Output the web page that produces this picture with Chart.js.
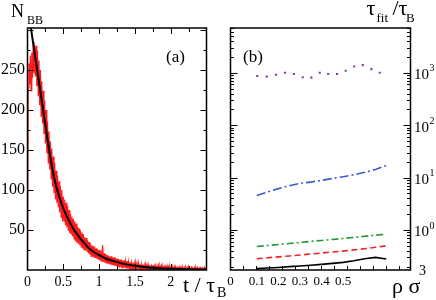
<!DOCTYPE html>
<html><head><meta charset="utf-8">
<script src="https://cdn.jsdelivr.net/npm/chart.js@4/dist/chart.umd.min.js"></script>
<style>
html,body{margin:0;padding:0;background:#fff;width:436px;height:300px;overflow:hidden;}
canvas{position:absolute;top:0;}
</style></head><body>
<canvas id="ca" width="232" height="300" style="left:0"></canvas>
<canvas id="cb" width="218" height="300" style="left:218px"></canvas>
<script>
// ---------- Panel (a): N_BB vs t / tau_B ----------
const nbbT0 = 0, nbbDt = 0.01;           // sampling grid of the simulated trace
const nbbValues = [
  0, 228, 258, 232, 268, 224, 272, 240, 285, 246,
  282, 242, 280, 230, 274, 218, 262, 206, 250, 192,
  236, 183, 224, 170, 212, 158, 200, 146, 186, 134,
  173, 126, 161, 114, 152, 104, 142, 96, 134, 88,
  124, 84, 118, 78, 111, 72, 105, 66, 100, 61,
  92, 61, 88, 56, 84, 53, 80, 49, 75, 46,
  70, 45, 67, 42, 64, 39, 61, 36, 58, 34,
  54, 33, 52, 31, 49, 29, 47, 27, 45, 25,
  41, 25, 40, 23, 37, 21, 35, 19, 33, 17,
  31, 17, 30, 16, 29, 15, 27, 14, 26, 13,
  25, 12, 24, 11, 23, 31, 10, 21, 9, 20,
  9, 19, 8, 18, 8, 17, 7, 17, 6, 16,
  6, 16, 5, 15, 5, 14, 4, 14, 4, 13,
  4, 13, 3, 12, 3, 12, 3, 11, 2, 11,
  2, 10, 2, 10, 2, 9, 1, 9, 1, 8,
  1, 9, 1, 8, 1, 8, 1, 7, 0, 7,
  0, 7, 1, 6, 0, 7, 1, 6, 0, 6,
  0, 6, 0, 5, 1, 6, 0, 5, 0, 5,
  0, 5, 0, 5, 0, 5, 1, 5, 0, 4,
  0, 4, 0, 4, 0, 5, 0, 4, 0, 4,
  0, 4, 0, 3, 0, 4, 0, 4, 0, 3,
  0, 3, 0, 4, 0, 3, 0, 3, 0, 3,
  0, 3, 0, 3, 0, 4, 0, 2, 0, 3,
  0, 2, 0, 3, 0, 3, 0, 3, 0, 2,
  0, 3, 0, 2, 0, 2, 0, 3, 0, 2,
  1
];
const fitT = [0, 0.05, 0.1, 0.15, 0.2, 0.25, 0.3, 0.35, 0.4, 0.45, 0.5, 0.55, 0.6, 0.65, 0.7, 0.75, 0.8, 0.85, 0.9, 1.0, 1.1, 1.2, 1.3, 1.4, 1.5, 1.6, 1.8, 2.0, 2.2, 2.5];
const fitN = [331, 301, 271, 241, 211, 181, 151, 125, 105, 90, 77, 67, 58, 50, 44, 38, 33, 28, 24, 18.5, 14, 11.2, 8.6, 6.7, 5.2, 4, 2.5, 1.5, 0.9, 0.5];
const leftXTicks = [0, 0.5, 1, 1.5, 2];
const leftYTicks = [50, 100, 150, 200, 250];

// ---------- Panel (b): tau_fit / tau_B vs rho sigma^3 ----------
const rhoDots = [0.102, 0.146, 0.189, 0.231, 0.272, 0.313, 0.353, 0.392, 0.431, 0.472, 0.512, 0.551, 0.591, 0.631, 0.670];
const tauDots = [866, 841, 917, 1000, 944, 818, 806, 1000, 944, 944, 1090, 1314, 1393, 1171, 1000];
const rhoLines = [0.1, 0.15, 0.2, 0.25, 0.3, 0.35, 0.4, 0.45, 0.5, 0.55, 0.6, 0.65, 0.7];
const tauBlack = [0.183, 0.188, 0.193, 0.200, 0.206, 0.213, 0.221, 0.231, 0.241, 0.258, 0.283, 0.300, 0.280];
const tauRed   = [0.283, 0.295, 0.307, 0.320, 0.333, 0.349, 0.364, 0.380, 0.396, 0.417, 0.440, 0.468, 0.500];
const tauGreen = [0.485, 0.505, 0.527, 0.552, 0.578, 0.606, 0.632, 0.660, 0.690, 0.722, 0.760, 0.795, 0.830];
const tauBlue  = [4.55, 5.3, 6.15, 6.95, 7.75, 8.2, 8.85, 9.6, 10.4, 11.3, 12.6, 14.3, 16.9];
const rightXTicks = [0.1, 0.2, 0.3, 0.4, 0.5];
const rightXMinor = [-0.0245, 0.0357, 0.0959, 0.1561, 0.2163, 0.2765, 0.3367, 0.3969, 0.4571, 0.5173, 0.5775, 0.6377, 0.6979, 0.7581];
const rightYTicks = [1, 10, 100, 1000];

const SERIF = '"Liberation Serif", "Times New Roman", serif';

const nbbPts = nbbValues.map((v, i) => ({x: nbbT0 + i * nbbDt, y: v}));
const fitPts = fitT.map((t, i) => ({x: t, y: fitN[i]}));
const pts = (xs, ys) => xs.map((x, i) => ({x: x, y: ys[i]}));

const frameA = {
  id: 'frameA',
  afterDraw(chart) {
    const {ctx, chartArea: a, scales: {x, y}} = chart;
    ctx.save();
    ctx.strokeStyle = '#000';
    ctx.lineWidth = 1;
    ctx.beginPath();
    for (let v = 25; v < 302; v += 25) {
      const p = Math.round(y.getPixelForValue(v)) + 0.5;
      const L = (v % 50 === 0) ? 6 : 3;
      ctx.moveTo(a.left, p); ctx.lineTo(a.left + L, p);
      ctx.moveTo(a.right, p); ctx.lineTo(a.right - L, p);
    }
    for (let k = 1; k < 10; k++) {
      const v = k * 0.25;
      const p = Math.round(x.getPixelForValue(v)) + 0.5;
      const L = (k % 2 === 0) ? 6 : 4;
      ctx.moveTo(p, a.bottom); ctx.lineTo(p, a.bottom - L);
      ctx.moveTo(p, a.top); ctx.lineTo(p, a.top + L);
    }
    ctx.stroke();
    ctx.lineWidth = 1.5;
    ctx.strokeRect(a.left, a.top, a.right - a.left, a.bottom - a.top);
    ctx.fillStyle = '#000';
    ctx.textBaseline = 'alphabetic';
    ctx.textAlign = 'left';
    ctx.font = '18px ' + SERIF; ctx.fillText('N', 11, 17);
    ctx.font = '12px ' + SERIF; ctx.fillText('BB', 27, 23.5);
    ctx.font = '17px ' + SERIF; ctx.fillText('(a)', 166, 62);
    ctx.font = '22px ' + SERIF; ctx.fillText('t / \u03C4', 183, 292);
    ctx.font = '14px ' + SERIF; ctx.fillText('B', 217, 297);
    ctx.restore();
  }
};

new Chart(document.getElementById('ca'), {
  type: 'line',
  data: { datasets: [
    { data: fitPts, borderColor: '#000', borderWidth: 2, pointRadius: 0, tension: 0.3, fill: false },
    { data: nbbPts, borderColor: 'rgba(255,0,0,0.9)', borderWidth: 1.2, pointRadius: 0, tension: 0, fill: false }
  ]},
  options: {
    responsive: false, animation: false, events: [],
    layout: { padding: { top: 28, right: 25.5, left: 0, bottom: 0 } },
    plugins: { legend: { display: false }, tooltip: { enabled: false } },
    scales: {
      x: {
        type: 'linear', min: 0, max: 2.5,
        afterBuildTicks: s => { s.ticks = leftXTicks.map(v => ({value: v})); },
        afterFit: s => { s.height = 30; },
        grid: { display: false, drawTicks: false }, border: { display: false },
        ticks: { autoSkip: false, maxRotation: 0, padding: 4, color: '#000',
                 font: { family: SERIF, size: 14 }, callback: v => String(v) }
      },
      y: {
        type: 'linear', min: 0, max: 302.5,
        afterBuildTicks: s => { s.ticks = leftYTicks.map(v => ({value: v})); },
        afterFit: s => { s.width = 27.5; },
        grid: { display: false, drawTicks: false }, border: { display: false },
        ticks: { autoSkip: false, padding: 2.5, color: '#000',
                 font: { family: SERIF, size: 16 }, callback: v => String(v) }
      }
    }
  },
  plugins: [frameA]
});

const frameB = {
  id: 'frameB',
  afterDraw(chart) {
    const {ctx, chartArea: a, scales: {x, y}} = chart;
    ctx.save();
    ctx.strokeStyle = '#000';
    ctx.lineWidth = 1;
    ctx.beginPath();
    for (let d = -1; d <= 3; d++) {
      for (let m = 1; m <= 9; m++) {
        const v = m * Math.pow(10, d);
        if (v < y.min || v > y.max) continue;
        const p = Math.round(y.getPixelForValue(v)) + 0.5;
        const L = (m === 1) ? 7 : 3.5;
        ctx.moveTo(a.left, p); ctx.lineTo(a.left + L, p);
        ctx.moveTo(a.right, p); ctx.lineTo(a.right - L, p);
      }
    }
    for (const v of rightXMinor) {
      const p = Math.round(x.getPixelForValue(v)) + 0.5;
      if (p <= a.left + 1 || p >= a.right - 1) continue;
      ctx.moveTo(p, a.bottom); ctx.lineTo(p, a.bottom - 4);
    }
    ctx.stroke();
    ctx.lineWidth = 1.5;
    ctx.strokeRect(a.left, a.top, a.right - a.left, a.bottom - a.top);
    ctx.fillStyle = '#000';
    ctx.textAlign = 'left';
    rightYTicks.forEach(v => {
      const p = y.getPixelForValue(v);
      const k = Math.round(Math.log10(v));
      ctx.font = '15px ' + SERIF;
      ctx.textBaseline = 'middle';
      ctx.fillText('10', a.right + 3.5, p + 2.5);
      ctx.font = '10px ' + SERIF;
      ctx.fillText(String(k), a.right + 19, p - 4);
    });
    ctx.textBaseline = 'alphabetic';
    ctx.font = '17px ' + SERIF; ctx.fillText('(b)', 25, 62);
    ctx.font = '22px ' + SERIF; ctx.fillText('\u03C4', 148.5, 15);
    ctx.font = '13px ' + SERIF; ctx.fillText('fit', 158.5, 22);
    ctx.font = '22px ' + SERIF; ctx.fillText('/\u03C4', 174.5, 15);
    ctx.font = '13px ' + SERIF; ctx.fillText('B', 188, 22);
    ctx.font = '22px ' + SERIF; ctx.fillText('\u03C1 \u03C3', 174, 293);
    ctx.font = '14px ' + SERIF; ctx.fillText('3', 201, 275);
    ctx.restore();
  }
};

new Chart(document.getElementById('cb'), {
  type: 'line',
  data: { datasets: [
    { data: pts(rhoDots, tauDots), showLine: false, pointStyle: 'rect', pointRadius: 1.5,
      pointBackgroundColor: '#8040a8', pointBorderColor: '#8040a8', pointBorderWidth: 0 },
    { data: pts(rhoLines, tauBlue), borderColor: '#3a5cc8', borderWidth: 1.6, pointRadius: 0,
      borderDash: [9, 3, 2, 3] },
    { data: pts(rhoLines, tauGreen), borderColor: '#1f9a3c', borderWidth: 1.6, pointRadius: 0,
      borderDash: [7, 3, 2, 3] },
    { data: pts(rhoLines, tauRed), borderColor: '#f02020', borderWidth: 1.6, pointRadius: 0,
      borderDash: [6, 3.5] },
    { data: pts(rhoLines, tauBlack), borderColor: '#000', borderWidth: 1.6, pointRadius: 0 }
  ]},
  options: {
    responsive: false, animation: false, events: [],
    layout: { padding: { top: 28, right: 0, left: 12.5, bottom: 0 } },
    plugins: { legend: { display: false }, tooltip: { enabled: false } },
    scales: {
      x: {
        type: 'linear', min: -0.0218, max: 0.8123,
        afterBuildTicks: s => { s.ticks = [{value: s.min}].concat(rightXTicks.map(v => ({value: v}))); },
        afterFit: s => { s.height = 30; },
        grid: { display: false, drawTicks: false }, border: { display: false },
        ticks: { autoSkip: false, maxRotation: 0, padding: 4, color: '#000',
                 font: { family: SERIF, size: 13 }, callback: v => (v < 0.05 ? '0' : v.toFixed(1)) }
      },
      y: {
        type: 'logarithmic', position: 'right', min: 0.1725, max: 7130,
        afterFit: s => { s.width = 25.5; },
        grid: { display: false, drawTicks: false }, border: { display: false },
        ticks: { display: false }
      }
    }
  },
  plugins: [frameB]
});
</script>
</body></html>
